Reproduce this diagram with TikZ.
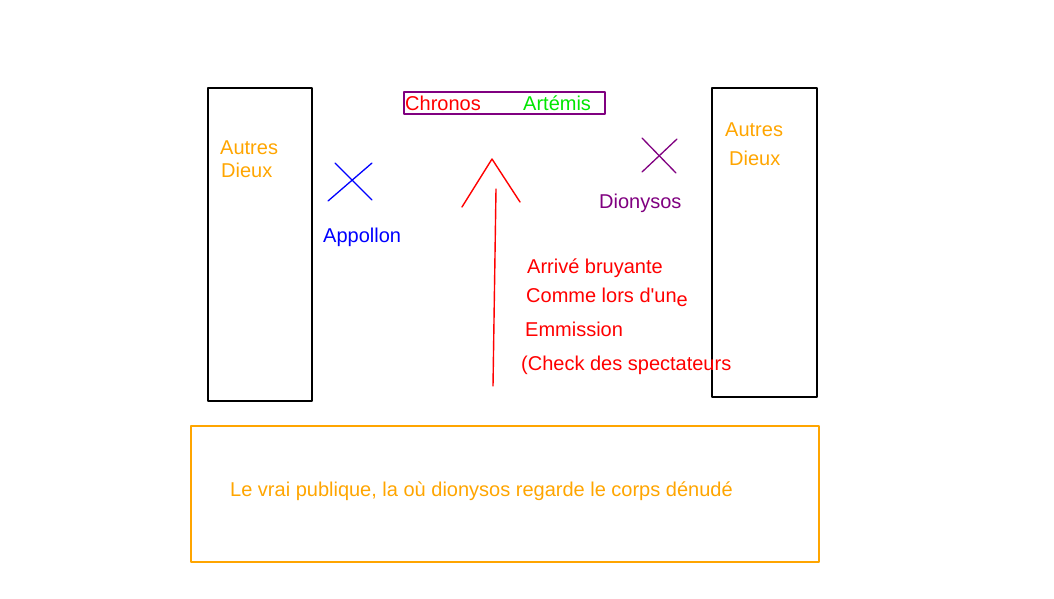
\documentclass[tikz,border=0pt]{standalone}
\usepackage{fontspec}
\setmainfont{Liberation Sans}
\usetikzlibrary{positioning}
\definecolor{dieuxorange}{RGB}{255,165,0}
\definecolor{dionpurple}{RGB}{128,0,128}
\definecolor{artgreen}{RGB}{0,230,0}

\begin{document}
\begin{tikzpicture}[line cap=round,line join=round,x=1pt,y=-1pt,
  txt/.style={anchor=base west,inner sep=0pt,font=\fontsize{20}{24}\selectfont}]
\useasboundingbox (0,0) rectangle (1054,598);
% loges des dieux
\draw [line width=1.6pt] (208,88) rectangle (312,401);
\draw [line width=1.6pt] (712,88) rectangle (817,397);
\draw (220,154) node[txt,text=dieuxorange] (autresg) {Autres};
\draw (221,177) node[txt,text=dieuxorange] (dieuxg) {Dieux};
\draw (725,136) node[txt,text=dieuxorange] (autresd) {Autres};
\draw (729,165) node[txt,text=dieuxorange] (dieuxd) {Dieux};
% tribune du haut
\draw [line width=1.4pt,dionpurple] (404,92) rectangle (605,114);
\draw (405,110) node[txt,text=red] (chronos) {Chronos};
\draw (523,110) node[txt,text=artgreen] (artemis) {Artémis};
% Appollon et Dionysos
\draw [line width=1.3pt,blue] (335,163)-- (372,200);
\draw [line width=1.3pt,blue] (372,163)-- (328,201);
\draw (323,242) node[txt,text=blue] (appollon) {Appollon};
\draw [line width=1.3pt,dionpurple] (642,138)-- (676,173);
\draw [line width=1.3pt,dionpurple] (677,139)-- (642,172);
\draw (599,208) node[txt,text=dionpurple] (dionysos) {Dionysos};
% l'arrivee
\draw [line width=1.4pt,red] (462,207)-- (492,159)-- (520,202);
\draw [line width=1.4pt,red] (496,189)-- (493,386);
\draw (527,273) node[txt,text=red] (arrive) {Arrivé bruyante};
\draw (526,302) node[txt,text=red] (comme) {Comme lors d\textquotesingle un\raisebox{-4pt}{e}};
\draw (525,336) node[txt,text=red] (emmission) {Emmission};
\draw (521,370) node[txt,text=red] (check) {(Check des spectateurs};
% le public
\draw [line width=1.2pt,dieuxorange] (191,426) rectangle (819,562);
\draw (230,496) node[txt,text=dieuxorange] (public) {Le vrai publique, la où dionysos regarde le corps dénudé};
\end{tikzpicture}
\end{document}
